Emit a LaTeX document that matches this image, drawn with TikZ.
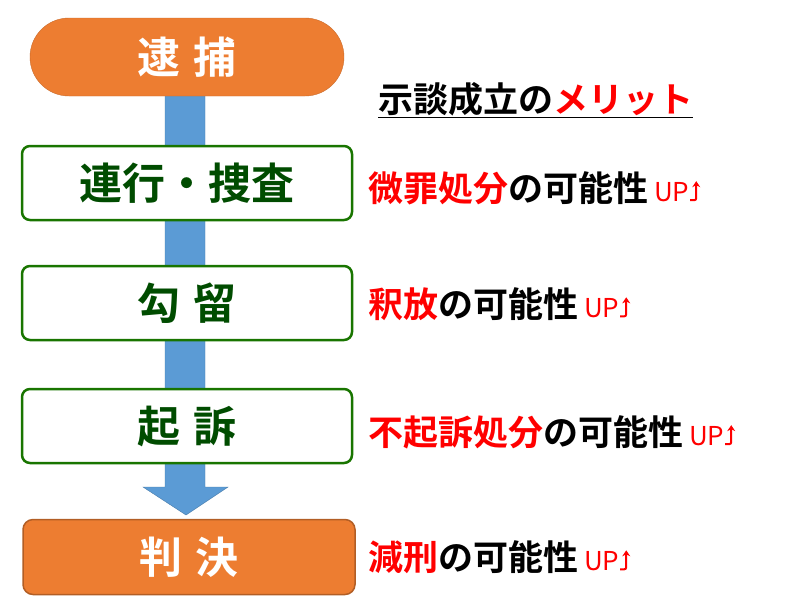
\documentclass[tikz,border=0pt]{standalone}
\usepackage{fontspec}
\usetikzlibrary{arrows.meta}
\setmainfont{Noto Sans CJK JP}[BoldFont={* Bold}]
\newcommand{\uparr}{\tikz[baseline=0pt,x=1pt,y=1pt]\draw[red,line width=2pt,-{Stealth[length=6pt,width=8pt]}] (0,1) -- (4,1) arc[start angle=-90,end angle=0,radius=2] -- (6,20);}
\newcommand{\upmark}{\textcolor{red}{\fontsize{26}{26}\mdseries\selectfont UP}\uparr}
\begin{document}
\begin{tikzpicture}[x=1pt,y=-1pt,
  stage/.style={draw=green!45!black!80!olive,line width=2.5pt,fill=white,rounded corners=8pt,minimum width=330pt,minimum height=74pt,font=\fontsize{43}{43}\bfseries\selectfont,text=green!30!black},
  merit/.style={anchor=west,font=\fontsize{35}{35}\bfseries\selectfont,inner sep=0pt}]
\useasboundingbox (0,0) rectangle (800,611);
\definecolor{org}{RGB}{237,125,49}
\definecolor{blu}{RGB}{91,155,213}
\draw[fill=blu,draw=blu!80!black] (165,95) -- (205,95) -- (205,487) -- (228,487) -- (186,515) -- (143,487) -- (165,487) -- cycle;
\node[fill=org,draw=org!85!black,rounded corners=39pt,minimum width=314pt,minimum height=78pt,text=white,font=\fontsize{43}{43}\bfseries\selectfont] (taiho) at (187,57) {逮\hspace{14pt}捕};
\node[stage] (renko) at (187,183) {連行・捜査};
\node[stage] (koryu) at (187,303) {勾\hspace{14pt}留};
\node[stage] (kiso) at (187,426) {起\hspace{14pt}訴};
\node[fill=org,draw=org!75!black,line width=1.5pt,rounded corners=10pt,minimum width=332pt,minimum height=75pt,text=white,font=\fontsize{43}{43}\bfseries\selectfont] (hanketsu) at (189,557) {判\hspace{14pt}決};
\node[merit] (m0) at (378,100) {\underline{示談成立の\textcolor{red}{メリット}}};
\node[merit] (m1) at (368,188) {\textcolor{red}{微罪処分}の可能性\,\upmark};
\node[merit] (m2) at (368,304) {\textcolor{red}{釈放}の可能性\,\upmark};
\node[merit] (m3) at (368,432) {\textcolor{red}{不起訴処分}の可能性\,\upmark};
\node[merit] (m4) at (368,557) {\textcolor{red}{減刑}の可能性\,\upmark};
\end{tikzpicture}
\end{document}
